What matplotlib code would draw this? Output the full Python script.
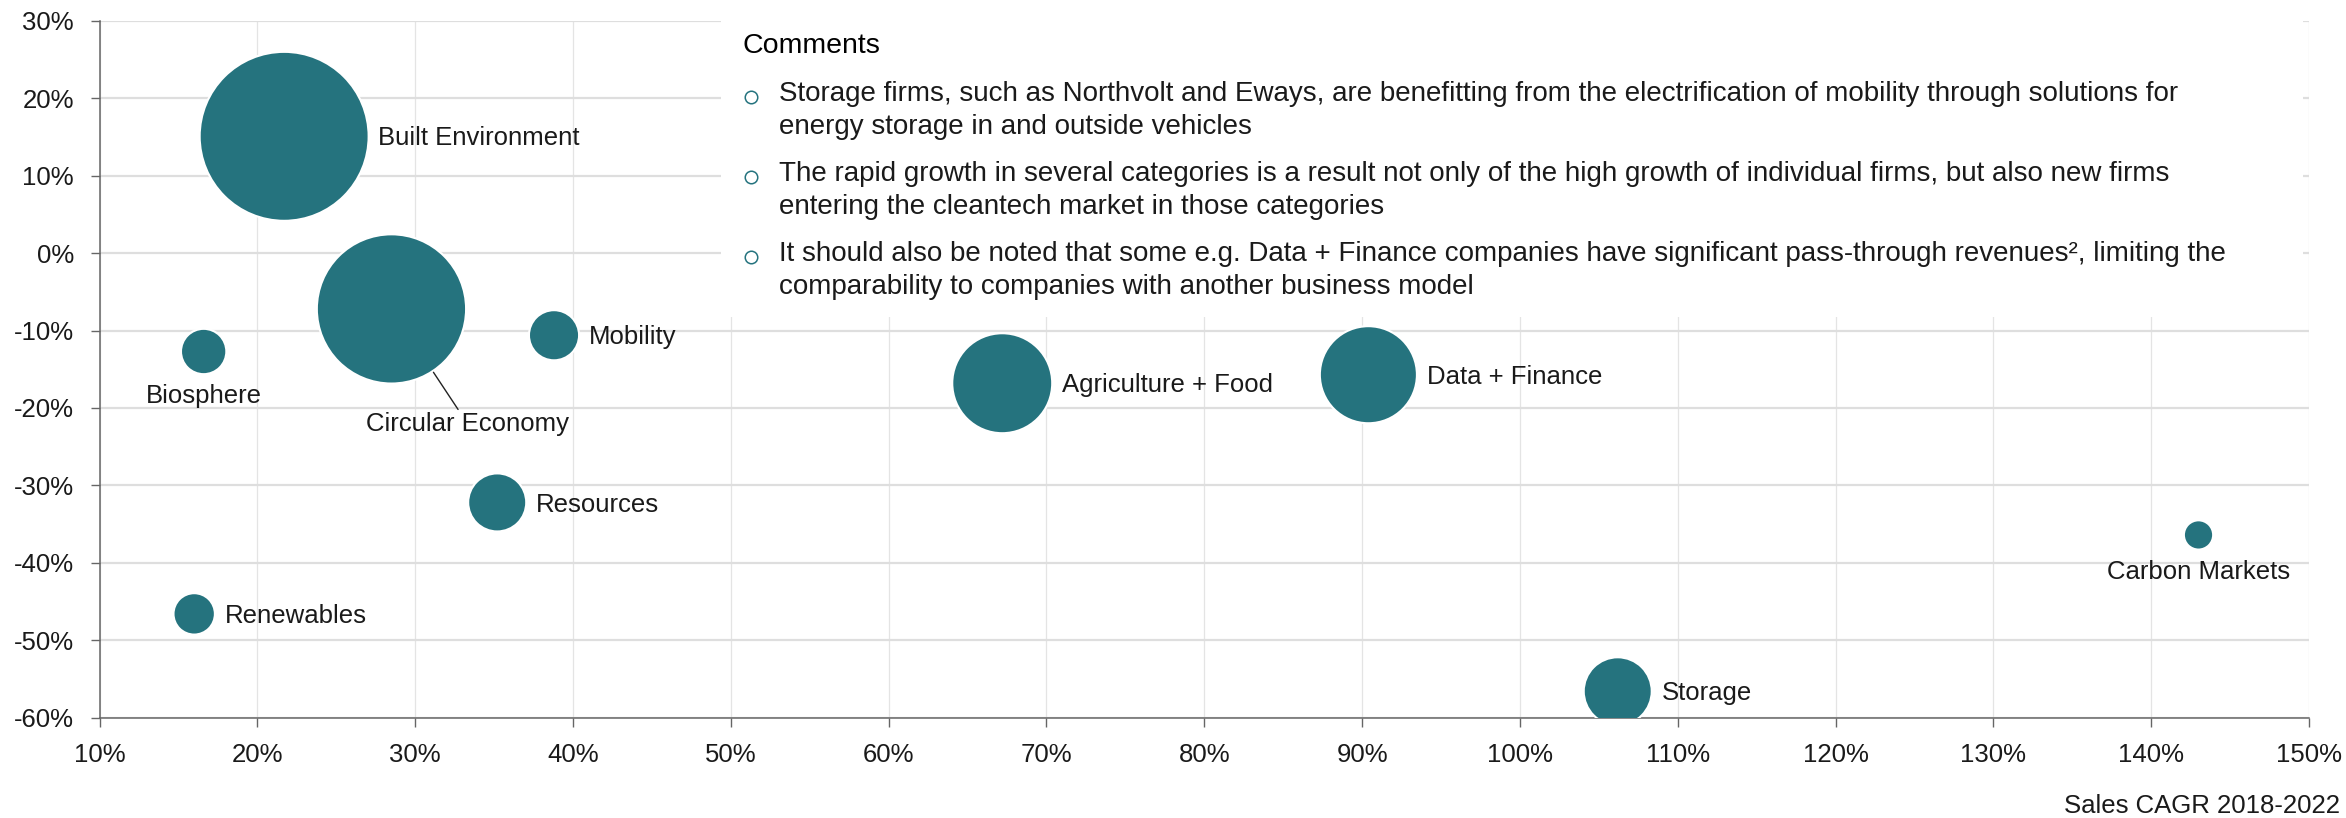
import numpy as np
import matplotlib.pyplot as plt
from matplotlib.lines import Line2D
from matplotlib.patches import Rectangle
from matplotlib.ticker import FuncFormatter, MultipleLocator

plt.rcParams['font.family'] = ['Liberation Sans', 'DejaVu Sans']

# Cleantech categories: sales CAGR 2018-2022 (x), recent growth (y), relative revenue (bubble area)
categories = ['Built Environment', 'Circular Economy', 'Mobility', 'Biosphere', 'Resources',
              'Renewables', 'Agriculture + Food', 'Data + Finance', 'Storage', 'Carbon Markets']
sales_cagr = [21.7, 28.5, 38.8, 16.6, 35.2, 16.0, 67.2, 90.4, 106.2, 143.0]
growth = [15.1, -7.2, -10.6, -12.7, -32.2, -46.6, -16.8, -15.7, -56.6, -36.4]
revenue = [100, 78, 8.8, 7.2, 11.8, 6.0, 35, 33, 16.2, 3.0]

comments = [
    'Storage firms, such as Northvolt and Eways, are benefitting from the electrification of mobility through solutions for\nenergy storage in and outside vehicles',
    'The rapid growth in several categories is a result not only of the high growth of individual firms, but also new firms\nentering the cleantech market in those categories',
    'It should also be noted that some e.g. Data + Finance companies have significant pass-through revenues\u00b2, limiting the\ncomparability to companies with another business model',
]

teal = '#25737e'
text_col = '#1a1a1a'
fs = 18.5
W, H = 2346, 818

fig = plt.figure(figsize=(W / 100, H / 100), dpi=100)
ax = fig.add_axes([99.5 / W, 1 - 717.6 / H, (2309 - 99.5) / W, (717.6 - 21) / H])

# bubble area in pt^2, largest bubble ~122 pt across
sizes = [r / 100 * 14800 for r in revenue]
ax.scatter(sales_cagr, growth, s=sizes, color=teal, edgecolor='white', linewidth=1.5, zorder=3)

ax.set_xlim(10, 150)
ax.set_ylim(-60, 30)
ax.xaxis.set_major_locator(MultipleLocator(10))
ax.yaxis.set_major_locator(MultipleLocator(10))
pct = FuncFormatter(lambda v, p: '%d%%' % round(v))
ax.xaxis.set_major_formatter(pct)
ax.yaxis.set_major_formatter(pct)

ax.grid(axis='y', color='#dedede', linewidth=1.6, zorder=0)
ax.grid(axis='x', color='#e4e4e4', linewidth=0.9, zorder=0)
ax.set_axisbelow(True)
for s in ['top', 'right']:
    ax.spines[s].set_visible(False)
for s in ['left', 'bottom']:
    ax.spines[s].set_color('#666666')
    ax.spines[s].set_linewidth(1.1)
ax.tick_params(axis='both', length=6.5, width=1.0, color='#666666', labelsize=fs,
               labelcolor=text_col, pad=12)

# labels next to the bubbles
below = {'Biosphere', 'Carbon Markets'}
for name, x, y, s in zip(categories, sales_cagr, growth, sizes):
    r = np.sqrt(s) / 2
    if name == 'Circular Economy':
        ax.annotate(name, (x, y), xytext=(55, -83), textcoords='offset points',
                    ha='center', va='center', fontsize=fs, color=text_col,
                    arrowprops=dict(arrowstyle='-', color='#222222', lw=1.0,
                                    shrinkA=0, shrinkB=r + 1))
    elif name in below:
        ax.annotate(name, (x, y), xytext=(0, -(r + 16)), textcoords='offset points',
                    ha='center', va='center', fontsize=fs, color=text_col)
    else:
        ax.annotate(name, (x, y), xytext=(r + 7, -1.5), textcoords='offset points',
                    ha='left', va='center', fontsize=fs, color=text_col)

# comments panel over the upper right of the plot
fig.add_artist(Rectangle((721 / W, 1 - 317 / H), (2303 - 721) / W, 317 / H,
                         transform=fig.transFigure, facecolor='white', edgecolor='none', zorder=4))
fig.text(742 / W, 1 - 46 / H, 'Comments', fontsize=20.5, color='black',
         va='center', ha='left', zorder=5)
for i, c in enumerate(comments):
    yc = 97 + i * 80
    fig.add_artist(Line2D([751 / W], [1 - yc / H], marker='o', markersize=9,
                          markerfacecolor='none', markeredgecolor=teal,
                          markeredgewidth=1.1, transform=fig.transFigure, zorder=5))
    for j, line in enumerate(c.split('\n')):
        fig.text(779 / W, 1 - (yc - 3 + j * 32.5) / H, line, fontsize=20, color=text_col,
                 va='center', ha='left', zorder=5)

fig.text(2340 / W, 1 - 806 / H, 'Sales CAGR 2018-2022', fontsize=fs, color=text_col,
         ha='right', va='center')

fig.savefig('out.png', dpi=100)
